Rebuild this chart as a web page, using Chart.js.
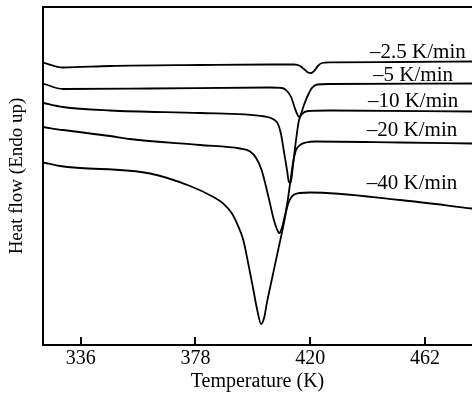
<!DOCTYPE html>
<html>
<head>
<meta charset="utf-8">
<script src="https://cdn.jsdelivr.net/npm/chart.js"></script>
<style>
  html, body { margin: 0; padding: 0; background: #fff; }
  canvas { display: block; }
</style>
</head>
<body>
<canvas id="dscChart" width="472" height="398"></canvas>
<script>
        const rateLabels = ['–2.5 K/min', '–5 K/min', '–10 K/min', '–20 K/min', '–40 K/min'];
        const tickTemps = [336, 378, 420, 462];

        // temperature (K) and heat flow (arbitrary units, endo up)
        const temp25 = [322.2, 329.5, 346.7, 379.7, 405.3, 414.1, 416.3, 417.7, 419.2, 420.3, 421.4, 422.8, 424.3, 427.2, 452.9, 479.2];
        const flow25 = [282.5, 277.5, 279, 280, 280.5, 280.5, 279, 276, 272.5, 272, 274, 279, 282, 282.7, 283, 283.5];

        const temp5 = [322.2, 329.5, 361.4, 405.3, 409.7, 411.5, 413.0, 414.1, 415.2, 415.9, 416.6, 417.7, 419.2, 420.6, 422.5, 427.2, 479.2];
        const flow5 = [261.5, 256, 256.5, 257.5, 257, 254, 248, 239, 231, 228, 231, 240, 250, 257, 260.5, 261, 261.5];

        const temp10 = [322.2, 329.5, 346.7, 379.7, 403.4, 406.7, 408.2, 409.3, 410.4, 411.5, 412.2, 412.8, 413.7, 414.8, 415.9, 417.0, 419.2, 427.2, 479.2];
        const flow10 = [242, 238, 234.5, 232, 228.5, 225.5, 221, 211, 193, 175, 163, 162, 180, 205, 225, 231, 234, 234.5, 233.5];

        const temp20 = [322.2, 329.5, 346.7, 354.0, 379.7, 394.3, 398.0, 400.2, 402.2, 404.7, 406.7, 407.8, 408.7, 409.5, 410.1, 411.6, 412.6, 413.7, 414.8, 416.3, 418.5, 421.8, 452.9, 479.2];
        const flow20 = [218, 215, 209, 206, 200, 196.5, 193.5, 187, 175, 148.3, 125, 116, 112, 116, 121.7, 141.7, 161, 182, 195, 200, 202.5, 203.5, 202.5, 201.5];

        const temp40 = [322.2, 328.4, 361.4, 376.0, 384.4, 388.1, 391.3, 393.7, 395.5, 397.3, 399.2, 400.6, 402.0, 403.1, 404.1, 405.9, 408.0, 410.1, 411.6, 413.2, 416.3, 419.9, 452.9, 479.2];
        const flow40 = [182.5, 179, 171.5, 159, 148.3, 141.7, 131.7, 118.3, 105, 81.7, 55, 35, 21, 27, 41.7, 65, 91.7, 118.3, 138.3, 148.3, 152, 152.5, 145, 136.5];

        const traces = [
            [temp25, flow25],
            [temp5, flow5],
            [temp10, flow10],
            [temp20, flow20],
            [temp40, flow40]
        ];

        // where each rate label sits (temperature, heat flow)
        const labelAt = [[441.9, 287], [443.0, 264], [441.1, 238], [440.7, 209], [440.7, 156]];

        const serif = '"Liberation Serif", "Times New Roman", serif';

        const framePlugin = {
            id: 'frameAndNotes',
            afterDatasetsDraw(chart) {
                const { ctx, chartArea: a, scales: { x, y } } = chart;
                ctx.save();
                ctx.strokeStyle = '#000';
                ctx.lineWidth = 2;
                ctx.beginPath();
                ctx.moveTo(a.left, a.top);
                ctx.lineTo(a.right, a.top);
                tickTemps.forEach(t => {
                    const px = Math.round(x.getPixelForValue(t));
                    ctx.moveTo(px, a.bottom);
                    ctx.lineTo(px, a.bottom - 8);
                });
                ctx.stroke();

                ctx.fillStyle = '#000';
                ctx.font = '21px ' + serif;
                ctx.textAlign = 'left';
                ctx.textBaseline = 'alphabetic';
                rateLabels.forEach((s, i) => {
                    ctx.fillText(s, x.getPixelForValue(labelAt[i][0]), y.getPixelForValue(labelAt[i][1]));
                });
                ctx.restore();
            }
        };

        new Chart(document.getElementById('dscChart'), {
            type: 'line',
            data: {
                datasets: traces.map((tr, i) => ({
                    label: rateLabels[i],
                    data: tr[0].map((t, j) => ({ x: t, y: tr[1][j] })),
                    borderColor: '#000',
                    borderWidth: 1.8,
                    pointRadius: 0,
                    fill: false,
                    cubicInterpolationMode: 'monotone'
                }))
            },
            options: {
                responsive: false,
                animation: false,
                layout: { padding: { top: 7, right: 0, bottom: 0, left: 0 } },
                plugins: {
                    legend: { display: false },
                    tooltip: { enabled: false }
                },
                scales: {
                    x: {
                        type: 'linear',
                        min: 322.2,
                        max: 479.2,
                        afterBuildTicks: axis => { axis.ticks = tickTemps.map(v => ({ value: v })); },
                        afterFit: axis => { axis.height = 53; },
                        grid: { display: false },
                        border: { display: true, color: '#000', width: 2 },
                        ticks: {
                            autoSkip: false,
                            maxRotation: 0,
                            padding: -6,
                            color: '#000',
                            font: { family: serif, size: 20 }
                        },
                        title: {
                            display: true,
                            text: 'Temperature (K)',
                            color: '#000',
                            font: { family: serif, size: 20 },
                            padding: { top: 0, bottom: 4 }
                        }
                    },
                    y: {
                        min: 0,
                        max: 338,
                        afterFit: axis => { axis.width = 43; },
                        grid: { display: false },
                        border: { display: true, color: '#000', width: 2 },
                        ticks: { display: false },
                        title: {
                            display: true,
                            text: 'Heat flow (Endo up)',
                            color: '#000',
                            font: { family: serif, size: 19 },
                            padding: { top: 6, bottom: 0 }
                        }
                    }
                }
            },
            plugins: [framePlugin]
        });
</script>
</body>
</html>
